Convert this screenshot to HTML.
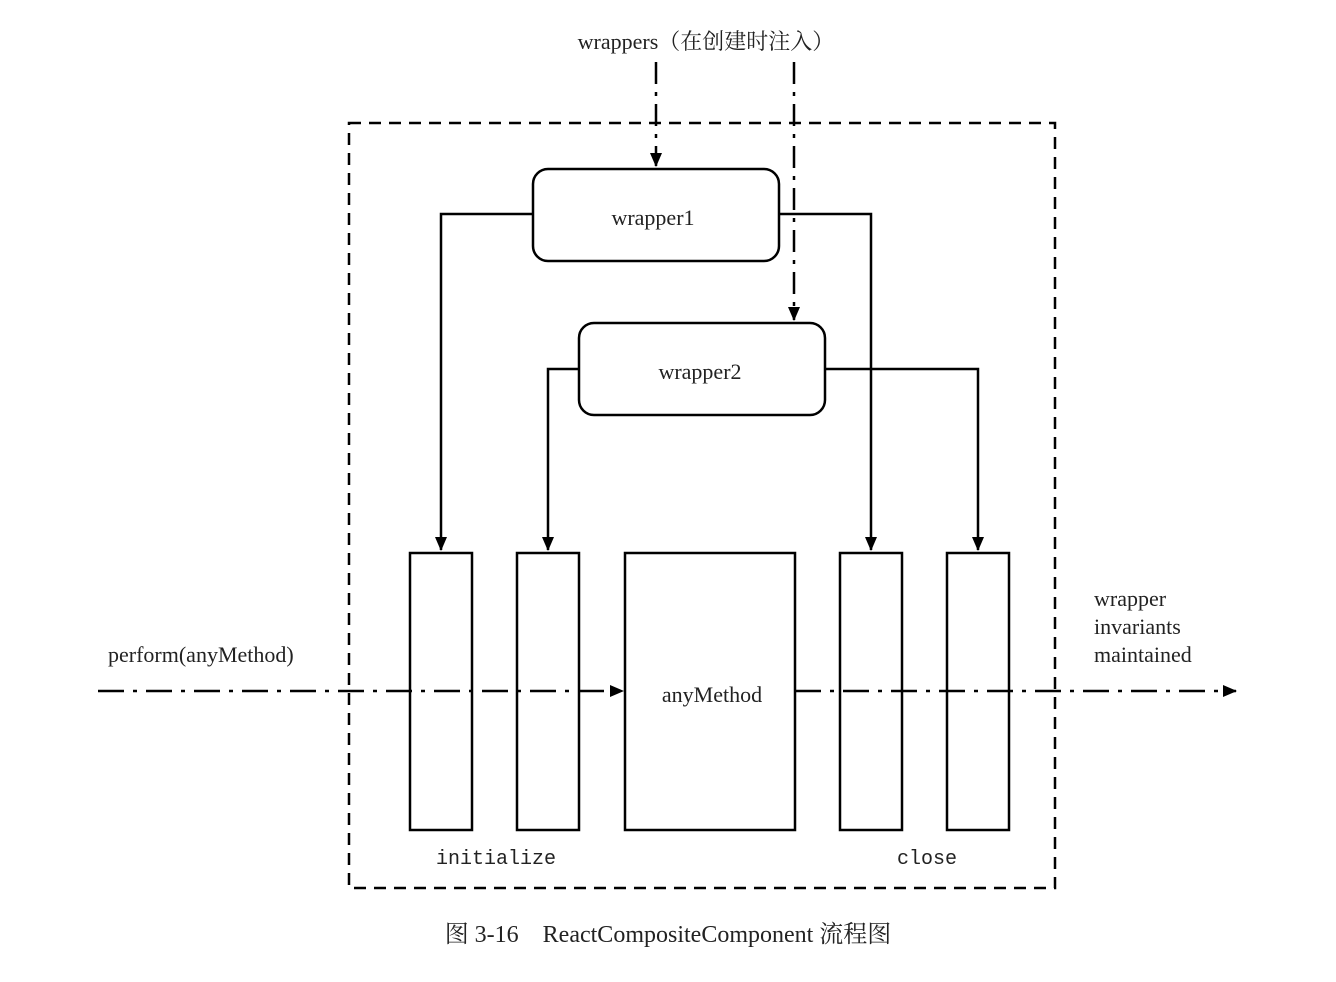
<!DOCTYPE html>
<html><head><meta charset="utf-8"><style>
html,body{margin:0;padding:0;background:#fff;width:1336px;height:982px;overflow:hidden}
svg{display:block}
.s{font-family:"Liberation Serif","Noto Serif CJK SC",serif;fill:#222}
.m{font-family:"Liberation Mono","DejaVu Sans Mono",monospace;fill:#222}
</style></head><body>
<svg width="1336" height="982" viewBox="0 0 1336 982">
<defs>
<marker id="a" markerWidth="14" markerHeight="14" refX="13" refY="7" orient="auto" markerUnits="userSpaceOnUse">
<path d="M0,1 L14,7 L0,13 z" fill="#000"/></marker>
</defs>
<g fill="none" stroke="#000" stroke-width="2.5">
<rect x="349" y="123" width="706" height="765" stroke-dasharray="12,8"/>
<!-- injection lines -->
<path d="M656,62 V166" stroke-dasharray="22,8,4,8" marker-end="url(#a)"/>
<path d="M794,62 V320" stroke-dasharray="22,8,4,8" marker-end="url(#a)"/>
<!-- wrapper boxes -->
<rect x="533" y="169" width="246" height="92" rx="15"/>
<rect x="579" y="323" width="246" height="92" rx="15"/>
<!-- connectors -->
<path d="M533,214 H441 V550" marker-end="url(#a)"/>
<path d="M779,214 H871 V550" marker-end="url(#a)"/>
<path d="M579,369 H548 V550" marker-end="url(#a)"/>
<path d="M825,369 H978 V550" marker-end="url(#a)"/>
<!-- columns -->
<rect x="410" y="553" width="62" height="277"/>
<rect x="517" y="553" width="62" height="277"/>
<rect x="625" y="553" width="170" height="277"/>
<rect x="840" y="553" width="62" height="277"/>
<rect x="947" y="553" width="62" height="277"/>
<!-- flow -->
<path d="M98,691 H623" stroke-dasharray="26,9,4,9" marker-end="url(#a)"/>
<path d="M795,691 H1236" stroke-dasharray="26,9,4,9" marker-end="url(#a)"/>
</g>
<text class="s" x="706" y="49" font-size="22" text-anchor="middle">wrappers（在创建时注入）</text>
<text class="s" x="653" y="225" font-size="22" text-anchor="middle">wrapper1</text>
<text class="s" x="700" y="379" font-size="22" text-anchor="middle">wrapper2</text>
<text class="s" x="712" y="702" font-size="22" text-anchor="middle">anyMethod</text>
<text class="s" x="108" y="662" font-size="22">perform(anyMethod)</text>
<text class="s" x="1094" y="606" font-size="22">wrapper</text>
<text class="s" x="1094" y="634" font-size="22">invariants</text>
<text class="s" x="1094" y="662" font-size="22">maintained</text>
<text class="m" x="436" y="864" font-size="20">initialize</text>
<text class="m" x="897" y="864" font-size="20">close</text>
<text class="s" x="668" y="942" font-size="24" text-anchor="middle">图 3-16　ReactCompositeComponent 流程图</text>
</svg>
</body></html>
